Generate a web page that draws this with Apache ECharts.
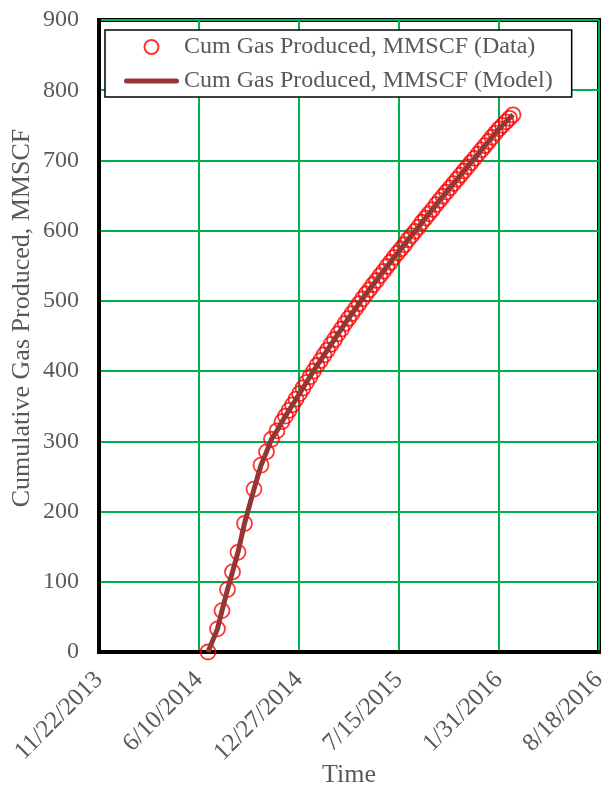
<!DOCTYPE html>
<html>
<head>
<meta charset="utf-8">
<script src="https://cdn.jsdelivr.net/npm/echarts@6/dist/echarts.min.js"></script>
<style>
  html, body { margin: 0; padding: 0; background: #fff; }
  #chart { width: 605px; height: 790px; }
</style>
</head>
<body>
<div id="chart"></div>
<script>
// x axis starts here, ticks every 200 days
const START_DATE = '2013-11-22'
const TICK_DAYS = 200

const dates = [
  '2014-06-28', '2014-07-17', '2014-07-26', '2014-08-06', '2014-08-16', '2014-08-27',
  '2014-09-09', '2014-09-28', '2014-10-12', '2014-10-23', '2014-11-02', '2014-11-13',
  '2014-11-23', '2014-11-30', '2014-12-07', '2014-12-14', '2014-12-21', '2014-12-28',
  '2015-01-04', '2015-01-11', '2015-01-18', '2015-01-25', '2015-02-01', '2015-02-08',
  '2015-02-15', '2015-02-22', '2015-03-01', '2015-03-08', '2015-03-15', '2015-03-22',
  '2015-03-29', '2015-04-05', '2015-04-12', '2015-04-19', '2015-04-26', '2015-05-03',
  '2015-05-10', '2015-05-17', '2015-05-24', '2015-05-31', '2015-06-07', '2015-06-14',
  '2015-06-21', '2015-06-28', '2015-07-05', '2015-07-12', '2015-07-19', '2015-07-26',
  '2015-08-02', '2015-08-09', '2015-08-16', '2015-08-23', '2015-08-30', '2015-09-06',
  '2015-09-13', '2015-09-20', '2015-09-27', '2015-10-04', '2015-10-11', '2015-10-18',
  '2015-10-25', '2015-11-01', '2015-11-08', '2015-11-15', '2015-11-22', '2015-11-29',
  '2015-12-06', '2015-12-13', '2015-12-20', '2015-12-27', '2016-01-03', '2016-01-10',
  '2016-01-17', '2016-01-24', '2016-01-31', '2016-02-07', '2016-02-14', '2016-02-21',
  '2016-02-28'
]

// cumulative gas produced, MMSCF (data)
const gasData = [
  0, 33, 59, 89, 114, 142,
  183, 232, 266, 285, 303, 315,
  328, 336, 344, 352, 360, 368,
  376, 384, 392, 400, 408, 415,
  423, 430, 438, 445, 453, 460,
  468, 475, 482, 489, 496, 503,
  510, 516, 523, 529, 536, 542,
  549, 555, 562, 568, 574, 580,
  587, 593, 599, 605, 612, 618,
  624, 630, 637, 643, 649, 655,
  661, 667, 673, 679, 685, 691,
  697, 703, 709, 715, 721, 727,
  733, 739, 745, 750, 755, 760,
  765
]

// model fit follows the data
const modelData = [
  0, 33, 59, 89, 114, 142,
  183, 232, 266, 285, 303, 315,
  328, 336, 344, 352, 360, 368,
  376, 384, 392, 400, 408, 415,
  423, 430, 438, 445, 453, 460,
  468, 475, 482, 489, 496, 503,
  510, 516, 523, 529, 536, 542,
  549, 555, 562, 568, 574, 580,
  587, 593, 599, 605, 612, 618,
  624, 630, 637, 643, 649, 655,
  661, 667, 673, 679, 685, 691,
  697, 703, 709, 715, 721, 727,
  733, 739, 745, 750, 755, 760,
  765
]

const DAY = 86400000
const startMs = Date.parse(START_DATE)
const toDay = d => (Date.parse(d) - startMs) / DAY
const fmtDate = v => {
  const d = new Date(startMs + v * DAY)
  return (d.getUTCMonth() + 1) + '/' + d.getUTCDate() + '/' + d.getUTCFullYear()
}

const FONT = 'Liberation Serif'
const TEXT_COLOR = '#595959'
const DATA_NAME = 'Cum Gas Produced, MMSCF (Data)'
const MODEL_NAME = 'Cum Gas Produced, MMSCF (Model)'

const chart = echarts.init(document.getElementById('chart'))

const option = {
  animation: false,
  backgroundColor: '#fff',
  grid: {
    left: 99,
    right: 6,
    top: 20,
    bottom: 138,
    containLabel: false,
    outerBoundsMode: 'none',
    show: true,
    borderColor: '#000',
    borderWidth: 4
  },
  legend: {
    orient: 'vertical',
    left: 105,
    top: 30,
    padding: [5, 19, 4, 19],
    itemGap: 10,
    itemWidth: 55,
    itemHeight: 14,
    backgroundColor: '#fff',
    borderColor: '#000',
    borderWidth: 1.5,
    textStyle: { fontFamily: FONT, fontSize: 24, color: TEXT_COLOR },
    data: [
      { name: DATA_NAME },
      {
        name: MODEL_NAME,
        icon: 'path://M2.5,0 L52.5,0 A2.5,2.5 0 0 1 52.5,5 L2.5,5 A2.5,2.5 0 0 1 2.5,0 Z',
        itemStyle: { color: '#943634' }
      }
    ]
  },
  xAxis: {
    type: 'value',
    min: 0,
    max: 5 * TICK_DAYS,
    interval: TICK_DAYS,
    name: 'Time',
    nameLocation: 'middle',
    nameGap: 110,
    nameMoveOverlap: false,
    nameTextStyle: { fontFamily: FONT, fontSize: 26, color: TEXT_COLOR },
    axisLine: { show: true, lineStyle: { color: '#000', width: 4 } },
    axisTick: { show: false },
    axisLabel: {
      rotate: 45,
      margin: 24,
      showMinLabel: true,
      showMaxLabel: true,
      fontFamily: FONT,
      fontSize: 25,
      color: TEXT_COLOR,
      formatter: fmtDate
    },
    splitLine: { show: true, lineStyle: { color: '#00B050', width: 2 } }
  },
  yAxis: {
    type: 'value',
    min: 0,
    max: 900,
    interval: 100,
    name: 'Cumulative Gas Produced, MMSCF',
    nameLocation: 'middle',
    nameGap: 64,
    nameMoveOverlap: false,
    nameTextStyle: { fontFamily: FONT, fontSize: 26, color: TEXT_COLOR, padding: [0, 0, 0, 36] },
    axisLine: { show: true, lineStyle: { color: '#000', width: 4 } },
    axisTick: { show: false },
    axisLabel: {
      margin: 20,
      fontFamily: FONT,
      fontSize: 24,
      color: TEXT_COLOR
    },
    splitLine: { show: true, lineStyle: { color: '#00B050', width: 2 } }
  },
  series: [
    {
      name: DATA_NAME,
      type: 'scatter',
      symbol: 'circle',
      symbolSize: 15,
      itemStyle: { color: 'rgba(255,255,255,0)', borderColor: '#FF0000', borderWidth: 1.8 },
      z: 2,
      data: dates.map((d, i) => [toDay(d), gasData[i]])
    },
    {
      name: MODEL_NAME,
      type: 'line',
      showSymbol: false,
      symbol: 'none',
      lineStyle: { color: '#943634', width: 5 },
      itemStyle: { color: '#943634' },
      z: 3,
      data: dates.map((d, i) => [toDay(d), modelData[i]])
    }
  ]
}

chart.setOption(option)
</script>
</body>
</html>
